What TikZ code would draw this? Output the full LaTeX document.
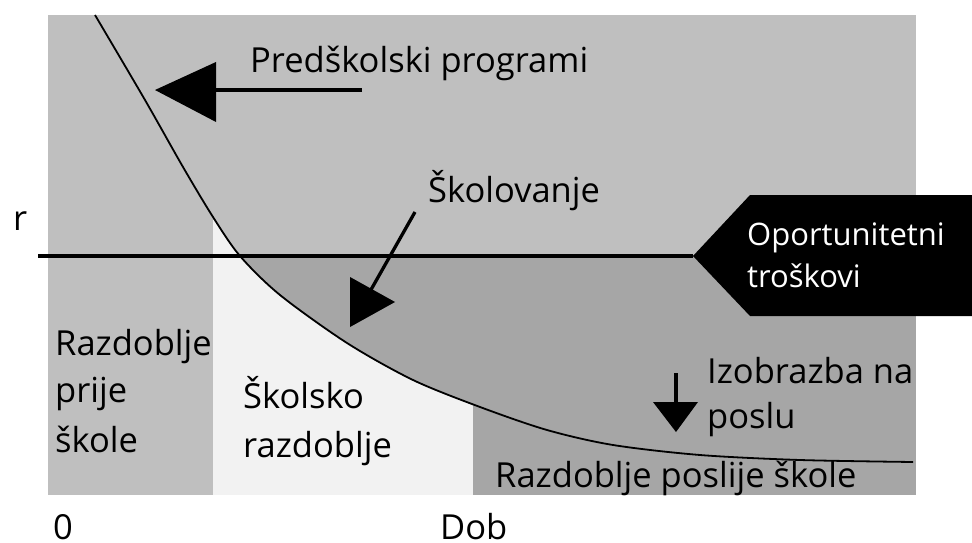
\documentclass[tikz,border=0pt]{standalone}
\usepackage{fontspec}
\setmainfont{Open Sans}
\definecolor{lightg}{HTML}{BFBFBF}
\definecolor{darkg}{HTML}{A6A6A6}
\definecolor{paleg}{HTML}{F2F2F2}
\tikzset{
  lbl/.style={anchor=base west, inner sep=0pt, font=\fontsize{34.5}{41}\selectfont},
  wlbl/.style={anchor=base west, inner sep=0pt, font=\fontsize{31}{37}\selectfont, text=white},
  conn/.style={line width=3.3pt},
  head/.style={fill=black},
}
\newcommand{\curvepts}{(95,15) (145,100) (183,167) (213,217) (240,256) (280,295) (347,343) (413,380) (480,407) (547,430) (613,445) (700,455) (800,460) (913,462)}
\begin{document}
\begin{tikzpicture}[x=1pt,y=-1pt]
\useasboundingbox (0,0) rectangle (972,543);
% regions
\fill[lightg] (48,15) rectangle (916,495);
\fill[darkg] (213,256) rectangle (916,495);
\begin{scope}
  \clip plot[smooth] coordinates {\curvepts} -- (913,600) -- (0,600) -- (0,15) -- cycle;
  \fill[paleg] (213,220) rectangle (473,495);
\end{scope}
% curve
\draw[line width=1.8pt] plot[smooth] coordinates {\curvepts};
% opportunity cost tag
\coordinate (rs) at (38,256);
\coordinate (tip) at (693,256);
\draw[conn] (rs) -- (tip);
\fill[black] (tip) -- (750,195) -- (972,195) -- (972,316) -- (750,316) -- cycle;
\node[wlbl] (op1) at (747,245) {Oportunitetni};
\node[wlbl] (op2) at (747,287) {troškovi};
% pre-school arrow
\node[lbl] (pre) at (250,73) {Predškolski programi};
\coordinate (pa) at (362,90);
\coordinate (pb) at (216,90);
\draw[conn] (pa) -- (pb);
\fill[head] (155,90) -- (216,62) -- (216,122) -- cycle;
% schooling arrow
\node[lbl] (sk) at (428,202) {Školovanje};
\coordinate (sa) at (415,212);
\coordinate (sb) at (368,295);
\draw[conn] (sa) -- (sb);
\fill[head] (350,277) -- (395,302) -- (350,327) -- cycle;
% on-the-job
\node[lbl] (iz1) at (707,383) {Izobrazba na};
\node[lbl] (iz2) at (707,428) {poslu};
\coordinate (ia) at (676,373);
\coordinate (ib) at (676,405);
\draw[conn] (ia) -- (ib);
\fill[head] (653,402) -- (698,402) -- (676,432) -- cycle;
% region labels
\node[lbl] (rp1) at (55,355) {Razdoblje};
\node[lbl] (rp2) at (55,402) {prije};
\node[lbl] (rp3) at (55,452) {škole};
\node[lbl] (sr1) at (243,408) {Školsko};
\node[lbl] (sr2) at (243,457) {razdoblje};
\node[lbl] (post) at (495,487) {Razdoblje poslije škole};
% axes labels
\node[lbl] (r) at (13,230) {r};
\node[lbl] (zero) at (53,539) {0};
\node[lbl] (dob) at (440,539) {Dob};
\end{tikzpicture}
\end{document}
